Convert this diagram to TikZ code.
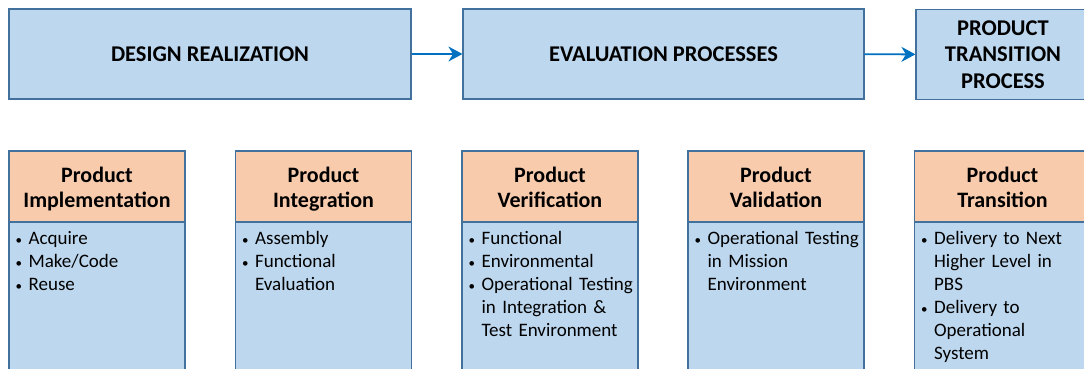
\documentclass[tikz,border=0pt]{standalone}
\usepackage{fontspec}
\setmainfont{Carlito}
\usetikzlibrary{arrows.meta}

\definecolor{boxblue}{HTML}{BDD7EE}
\definecolor{boxedge}{HTML}{41719C}
\definecolor{headorange}{HTML}{F8CBAD}
\definecolor{arrowblue}{HTML}{0070C0}

\newcommand{\bul}{\makebox[13pt][l]{\fontsize{13}{13}\selectfont\textbullet}}
\newcommand{\cont}{\hspace*{13pt}}
% same baselines in every header
\newcommand{\headtext}[2]{\rule{0pt}{21pt}#1\\#2\rule[-5pt]{0pt}{5pt}}

\begin{document}
\begin{tikzpicture}[x=1pt,y=1pt,
    phase/.style={draw=boxedge,line width=1.2pt,fill=boxblue,align=center,
      font=\fontsize{22.5}{26.5}\selectfont\bfseries,minimum height=90pt,inner sep=0pt},
    head/.style={draw=boxedge,line width=1.2pt,fill=headorange,align=center,
      font=\fontsize{22}{25}\selectfont\bfseries,minimum width=176pt,minimum height=71pt,inner sep=0pt},
    body/.style={draw=boxedge,line width=1.2pt,fill=boxblue,minimum width=176pt,minimum height=160pt,inner sep=0pt},
    items/.style={anchor=base west,text width=168pt,align=left,inner sep=0pt,
      font=\fontsize{19}{23}\selectfont,xshift=7pt,yshift=-23pt},
    flow/.style={-{Stealth[length=14pt,width=15pt]},arrowblue,line width=1.8pt}]
    \useasboundingbox (0,0) rectangle (1084,-369);
    \clip (0,0) rectangle (1084,-369);

    % phases on top
    \node[phase,minimum width=402pt] (design) at (210,-54) {DESIGN REALIZATION};
    \node[phase,minimum width=401pt] (evalproc) at (663.5,-54) {EVALUATION PROCESSES};
    \node[phase,minimum width=174pt] (transproc) at (1003,-54.5) {PRODUCT\\TRANSITION\\PROCESS};
    \draw[flow] (design) -- (evalproc);
    \draw[flow] (evalproc) -- (transproc);

    % product processes
    \node[body] (implbody) at (97,-302) {};
    \node[head] (implhead) at (97,-186.5) {\headtext{Product}{Implementation}};
    \node[items] (impllist) at (implbody.north west) {\bul Acquire\\\bul Make/Code\\\bul Reuse};

    \node[body] (integbody) at (323.5,-302) {};
    \node[head] (integhead) at (323.5,-186.5) {\headtext{Product}{Integration}};
    \node[items] (integlist) at (integbody.north west) {\bul Assembly\\\bul Functional\\\cont Evaluation};

    \node[body] (verifbody) at (550,-302) {};
    \node[head] (verifhead) at (550,-186.5) {\headtext{Product}{Verification}};
    \node[items] (veriflist) at (verifbody.north west) {\bul Functional\\\bul Environmental\\\bul Operational Testing\\\cont in Integration \&\\\cont Test Environment};

    \node[body] (validbody) at (776,-302) {};
    \node[head] (validhead) at (776,-186.5) {\headtext{Product}{Validation}};
    \node[items] (validlist) at (validbody.north west) {\bul Operational Testing\\\cont in Mission\\\cont Environment};

    \node[body] (transbody) at (1002.5,-302) {};
    \node[head] (transhead) at (1002.5,-186.5) {\headtext{Product}{Transition}};
    \node[items] (translist) at (transbody.north west) {\bul Delivery to Next\\\cont Higher Level in\\\cont PBS\\\bul Delivery to\\\cont Operational\\\cont System};
\end{tikzpicture}
\end{document}
